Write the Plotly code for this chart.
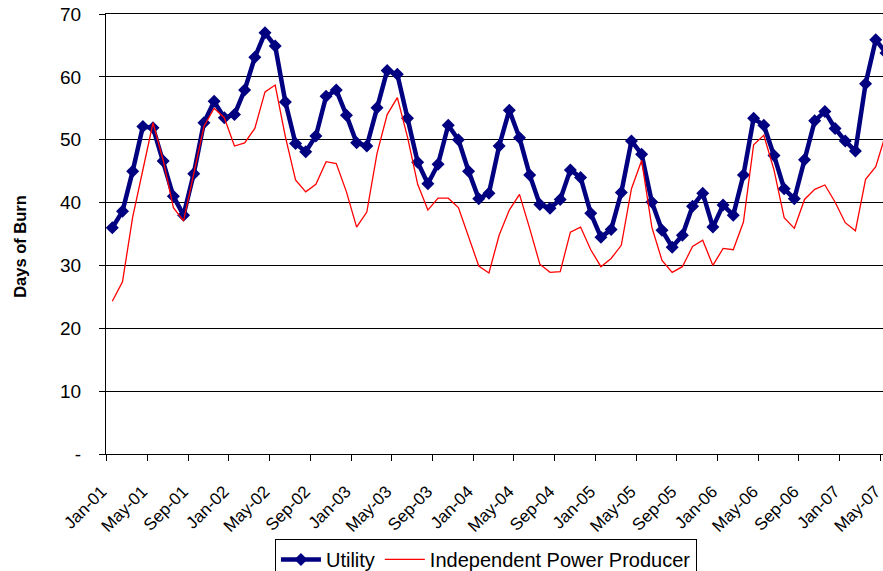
import plotly.graph_objects as go

# monthly series, Jan-01 .. May-07
months = ['Jan-01', 'Feb-01', 'Mar-01', 'Apr-01', 'May-01', 'Jun-01', 'Jul-01', 'Aug-01', 'Sep-01', 'Oct-01', 'Nov-01', 'Dec-01',
          'Jan-02', 'Feb-02', 'Mar-02', 'Apr-02', 'May-02', 'Jun-02', 'Jul-02', 'Aug-02', 'Sep-02', 'Oct-02', 'Nov-02', 'Dec-02',
          'Jan-03', 'Feb-03', 'Mar-03', 'Apr-03', 'May-03', 'Jun-03', 'Jul-03', 'Aug-03', 'Sep-03', 'Oct-03', 'Nov-03', 'Dec-03',
          'Jan-04', 'Feb-04', 'Mar-04', 'Apr-04', 'May-04', 'Jun-04', 'Jul-04', 'Aug-04', 'Sep-04', 'Oct-04', 'Nov-04', 'Dec-04',
          'Jan-05', 'Feb-05', 'Mar-05', 'Apr-05', 'May-05', 'Jun-05', 'Jul-05', 'Aug-05', 'Sep-05', 'Oct-05', 'Nov-05', 'Dec-05',
          'Jan-06', 'Feb-06', 'Mar-06', 'Apr-06', 'May-06', 'Jun-06', 'Jul-06', 'Aug-06', 'Sep-06', 'Oct-06', 'Nov-06', 'Dec-06',
          'Jan-07', 'Feb-07', 'Mar-07', 'Apr-07', 'May-07']

utility = [36.0, 38.6, 45.0, 52.1, 51.9, 46.6, 41.0, 38.0, 44.6, 52.7, 56.1, 53.5,
           54.0, 57.9, 63.1, 67.0, 64.9, 56.0, 49.4, 48.1, 50.6, 56.9, 57.9, 53.9,
           49.5, 49.0, 55.1, 61.0, 60.4, 53.4, 46.4, 43.0, 46.1, 52.3, 50.0, 45.0,
           40.6, 41.5, 49.0, 54.7, 50.3, 44.4, 39.7, 39.1, 40.5, 45.2, 44.0, 38.3,
           34.5, 35.7, 41.6, 49.8, 47.7, 40.1, 35.6, 32.9, 34.8, 39.4, 41.5, 36.1,
           39.6, 38.0, 44.4, 53.4, 52.3, 47.5, 42.2, 40.6, 46.8, 53.0, 54.5, 51.8,
           49.8, 48.2, 58.9, 65.9, 63.8]

ipp = [24.3, 27.4, 37.7, 45.1, 52.7, 46.7, 39.2, 37.1, 44.6, 52.1, 55.0, 53.5,
       49.0, 49.5, 51.8, 57.6, 58.7, 50.5, 43.6, 41.7, 42.9, 46.5, 46.2, 41.7,
       36.1, 38.5, 47.8, 54.0, 56.7, 50.4, 42.9, 38.8, 40.7, 40.7, 39.2, 34.5,
       29.9, 28.8, 34.8, 38.8, 41.3, 35.9, 30.2, 28.9, 29.0, 35.3, 36.1, 32.5,
       29.8, 31.1, 33.2, 42.2, 46.7, 36.1, 30.8, 28.9, 29.8, 33.0, 34.0, 30.0,
       32.7, 32.5, 36.9, 49.2, 50.7, 45.2, 37.6, 35.9, 40.5, 42.1, 42.8, 40.1,
       36.8, 35.5, 43.7, 45.7, 51.0]

y_ticks = [0, 10, 20, 30, 40, 50, 60, 70]
y_labels = ['-', '10', '20', '30', '40', '50', '60', '70']

x = list(range(len(months)))
# ticks sit on category boundaries, every 4 months
tick_pos = [i - 0.55 for i in range(0, len(months), 4)]
tick_txt = [months[i] for i in range(0, len(months), 4)]

fig = go.Figure()
fig.add_trace(go.Scatter(
    x=x, y=utility, name='Utility', mode='lines+markers',
    line=dict(color='#000080', width=4.5),
    marker=dict(symbol='diamond', size=10, color='#000080'),
))
fig.add_trace(go.Scatter(
    x=x, y=ipp, name='Independent Power Producer', mode='lines',
    line=dict(color='#FF0000', width=1.3),
))

fig.update_layout(
    width=883, height=571,
    margin=dict(l=106, r=0, t=14, b=117, autoexpand=False),
    paper_bgcolor='white', plot_bgcolor='white',
    font=dict(family='Liberation Sans, Arial', size=16, color='black'),
    showlegend=True,
    legend=dict(
        orientation='h', x=0.489, xanchor='center', y=-0.193, yanchor='top',
        bordercolor='black', borderwidth=1, bgcolor='white',
        font=dict(size=20), itemwidth=40,
    ),
)
# y title as an annotation so it can sit a little below the axis middle
fig.add_annotation(
    text='<b>Days of Burn</b>', textangle=-90, showarrow=False,
    xref='paper', yref='paper', x=-0.1107, y=0.473,
    xanchor='center', yanchor='middle',
    font=dict(size=16.5),
)
fig.update_xaxes(
    range=[-0.62, 75.71], tickmode='array', tickvals=tick_pos, ticktext=tick_txt,
    tickangle=-45, ticks='outside', ticklen=6, tickcolor='black', ticklabelstandoff=14,
    ticklabelshift=-5, ticklabeloverflow='allow',
    showline=True, linecolor='black', linewidth=1, mirror=True,
    showgrid=False, zeroline=False,
    tickfont=dict(size=17), automargin=False,
)
fig.update_yaxes(
    range=[0, 70], tickmode='array', tickvals=y_ticks, ticktext=y_labels,
    ticks='outside', ticklen=6, tickcolor='black', ticklabelstandoff=14,
    ticklabeloverflow='allow',
    showline=True, linecolor='black', linewidth=1,
    showgrid=True, gridcolor='black', gridwidth=1, zeroline=False,
    tickfont=dict(size=19), automargin=False,
)

# drop the default page margin so the figure fills the window exactly
fig.write_html(
    "out.html",
    config={'displayModeBar': False},
    post_script="document.body.style.margin='0';document.body.style.overflow='hidden';",
)
